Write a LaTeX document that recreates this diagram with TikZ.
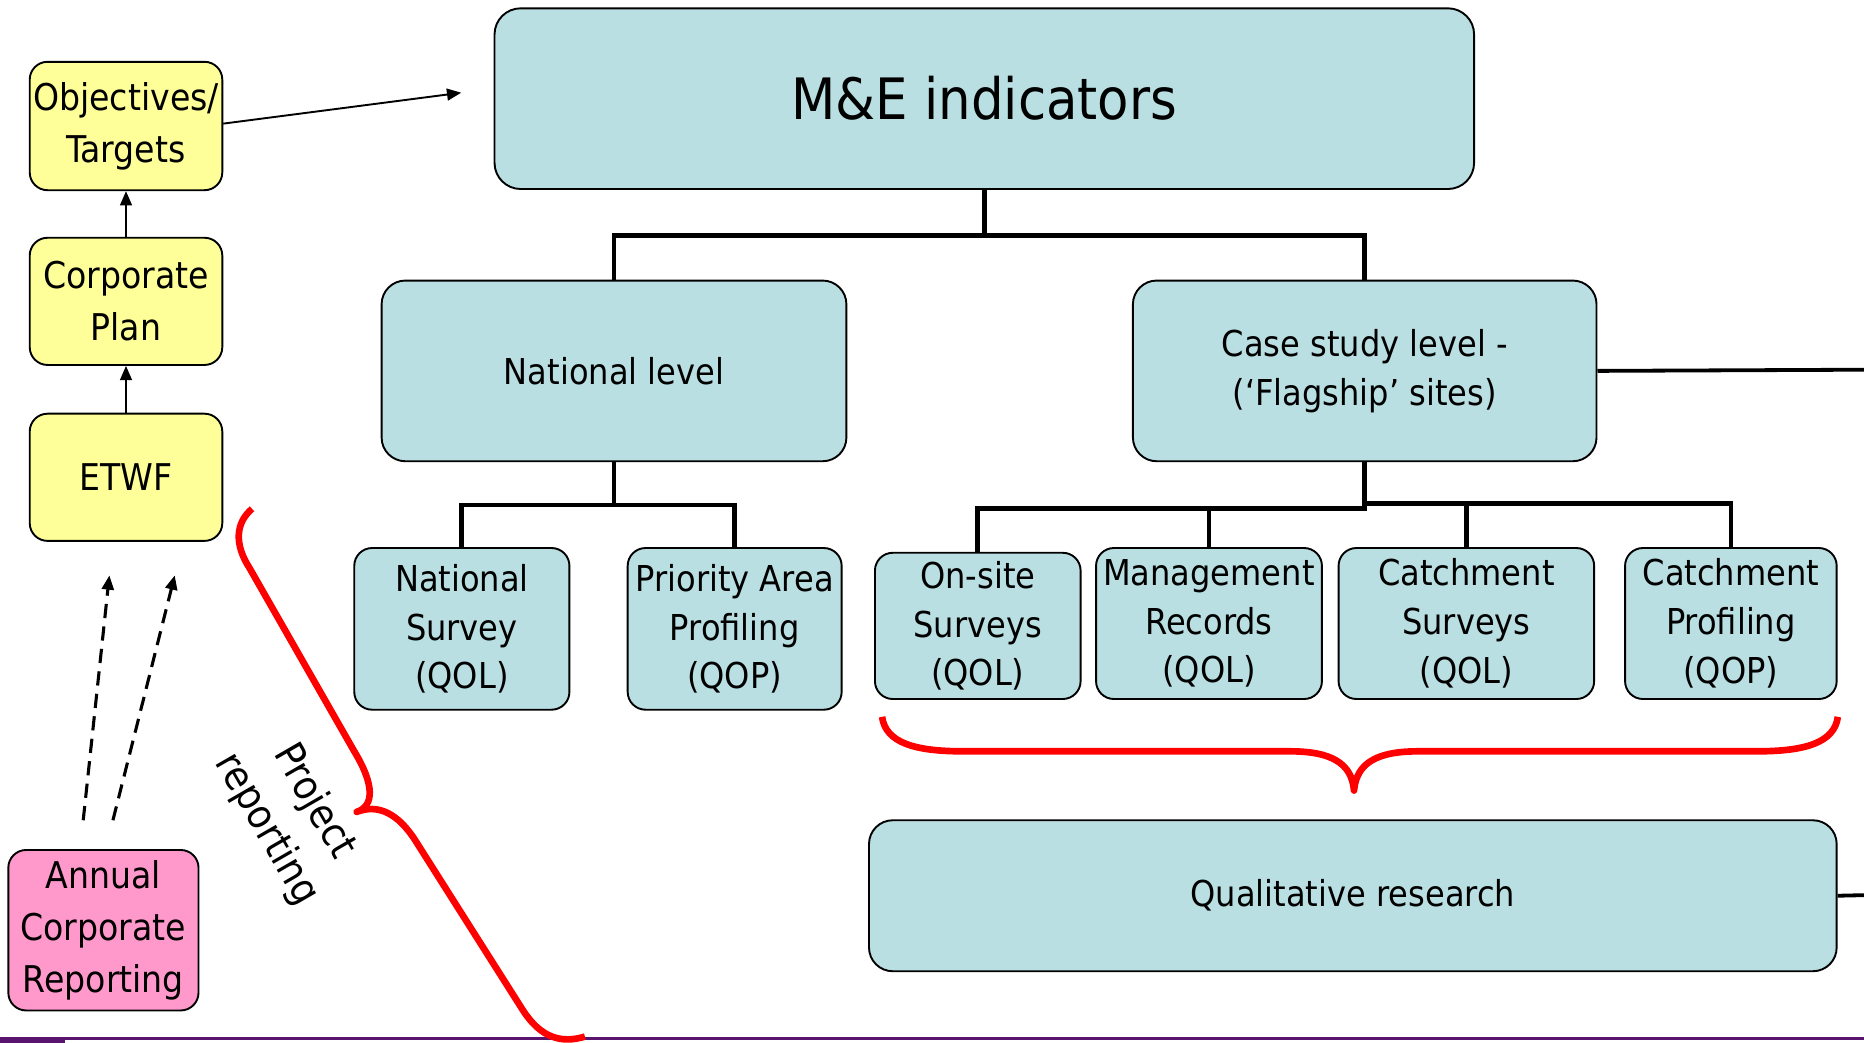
\documentclass[tikz,border=0pt]{standalone}
\usepackage{fontspec}
\setmainfont{DejaVu Sans Condensed}
\usepackage{tikz}
\usetikzlibrary{positioning,arrows.meta}

\definecolor{tealbox}{RGB}{185,223,226}
\definecolor{yellowbox}{RGB}{255,255,153}
\definecolor{pinkbox}{RGB}{255,153,204}
\definecolor{slidepurple}{RGB}{88,20,110}

\tikzset{
  box/.style={draw, line width=0.8pt, fill=tealbox, rounded corners=7.5pt, align=center, inner sep=0pt,
    font=\fontsize{15}{20.5}\selectfont},
  leftbox/.style={box, fill=yellowbox, font=\fontsize{15.5}{22}\selectfont},
  tree/.style={line width=2pt},
  thinarrow/.style={line width=0.8pt, -{Triangle[length=6pt,width=5pt]}},
  dasharrow/.style={line width=1.3pt, dash pattern=on 6pt off 3.5pt, -{Triangle[length=6pt,width=5pt]}},
  bracered/.style={red, line width=2.8pt, line join=round}
}

\begin{document}
\begin{tikzpicture}[x=0.5pt,y=0.5pt,yscale=-1,xscale=1]
\useasboundingbox (0,0) rectangle (1568,877);

%Slide line at the bottom
\fill [slidepurple] (0,872) rectangle (1568,874.5);
\fill [slidepurple] (0,872) rectangle (55,877);

%Left column
\node [leftbox, minimum width=81pt, minimum height=54pt] (obj) at (106,106) {Objectives/\\Targets};
\node [leftbox, minimum width=81pt, minimum height=53.5pt] (corp) at (106,253.5) {Corporate\\Plan};
\node [leftbox, minimum width=81pt, minimum height=53.5pt] (etwf) at (106,401.5) {ETWF};
\node [leftbox, fill=pinkbox, minimum width=80pt, minimum height=67.5pt] (acr) at (87,782.5) {Annual\\Corporate\\Reporting};

\draw [thinarrow] (etwf) -- (corp);
\draw [thinarrow] (corp) -- (obj);
\coordinate (objend) at (388,78);
\draw [thinarrow] (obj.east) ++(0,-2) -- (objend);

%Dashed arrows from annual reporting
\coordinate (dstartA) at (70,690);
\coordinate (dendA) at (92,484);
\coordinate (dstartB) at (95,690);
\coordinate (dendB) at (147,484);
\draw [dasharrow] (dstartA) -- (dendA);
\draw [dasharrow] (dstartB) -- (dendB);

%Top of the tree
\node [box, rounded corners=11pt, minimum width=412pt, minimum height=76pt, font=\fontsize{24}{28}\selectfont] (mne) at (828,83) {M\&E indicators};

\node [box, rounded corners=10pt, minimum width=195.5pt, minimum height=76pt] (natl) at (516.5,312) {National level};
\node [box, rounded corners=10pt, minimum width=195pt, minimum height=76pt] (case) at (1148,312) {Case study level -\\(`Flagship' sites)};

\draw [tree] (mne.south) -- ++(0,38) coordinate (mbar) -| (natl.north);
\draw [tree] (mbar) -| (case.north);

%National level children
\node [box, minimum width=90.5pt, minimum height=68pt] (nsurv) at (388.5,529) {National\\Survey\\(QOL)};
\node [box, minimum width=90pt, minimum height=68pt] (pap) at (618,529) {Priority Area\\Profiling\\(QOP)};

\draw [tree] (natl.south) -- ++(0,36) coordinate (nbar) -| (nsurv.north);
\draw [tree] (nbar) -| (pap.north);

%Case study children
\node [box, minimum width=86.5pt, minimum height=61.5pt] (onsite) at (822.5,526.5) {On-site\\Surveys\\(QOL)};
\node [box, minimum width=95pt, minimum height=63.5pt] (mgmt) at (1017,524.5) {Management\\Records\\(QOL)};
\node [box, minimum width=107.5pt, minimum height=63.5pt] (csurv) at (1233.5,524.5) {Catchment\\Surveys\\(QOL)};
\node [box, minimum width=89pt, minimum height=63.5pt] (cprof) at (1456,524.5) {Catchment\\Profiling\\(QOP)};

\draw [tree] (case.south) -- ++(0,39) coordinate (cbarL) -| (onsite.north);
\draw [tree] (cbarL) -| (mgmt.north);
\draw [tree] (case.south) ++(0,35) coordinate (cbarR) -| (csurv.north);
\draw [tree] (cbarR) -| (cprof.north);

\coordinate (caseout) at (1568,311);
\draw [line width=1.6pt] (case.east) -- (caseout);

%Qualitative research
\node [box, rounded corners=10pt, minimum width=407pt, minimum height=63.5pt] (qual) at (1138,753.5) {Qualitative research};
\coordinate (qualout) at (1568,753);
\draw [line width=1.6pt] (qual.east) -- (qualout);

%Brace under the case study surveys
\draw [bracered] (742,603) .. controls (745,625) and (770,632) .. (810,632) -- (1085,632) .. controls (1120,632) and (1137,642) .. (1139,665) .. controls (1141,642) and (1158,632) .. (1193,632) -- (1478,632) .. controls (1518,632) and (1543,625) .. (1546,603);

%Brace for project reporting
\draw [bracered] (212,428) .. controls (198,440) and (197,458) .. (210,478) -- (298,632) .. controls (315,660) and (315,678) .. (300,683) .. controls (318,676) and (335,684) .. (350,708) -- (440,850) .. controls (455,873) and (472,878) .. (492,872);

\node [rotate=-60, align=center, font=\fontsize{17}{23}\selectfont] (projrep) at (244,686) {Project\\reporting};

\end{tikzpicture}
\end{document}
